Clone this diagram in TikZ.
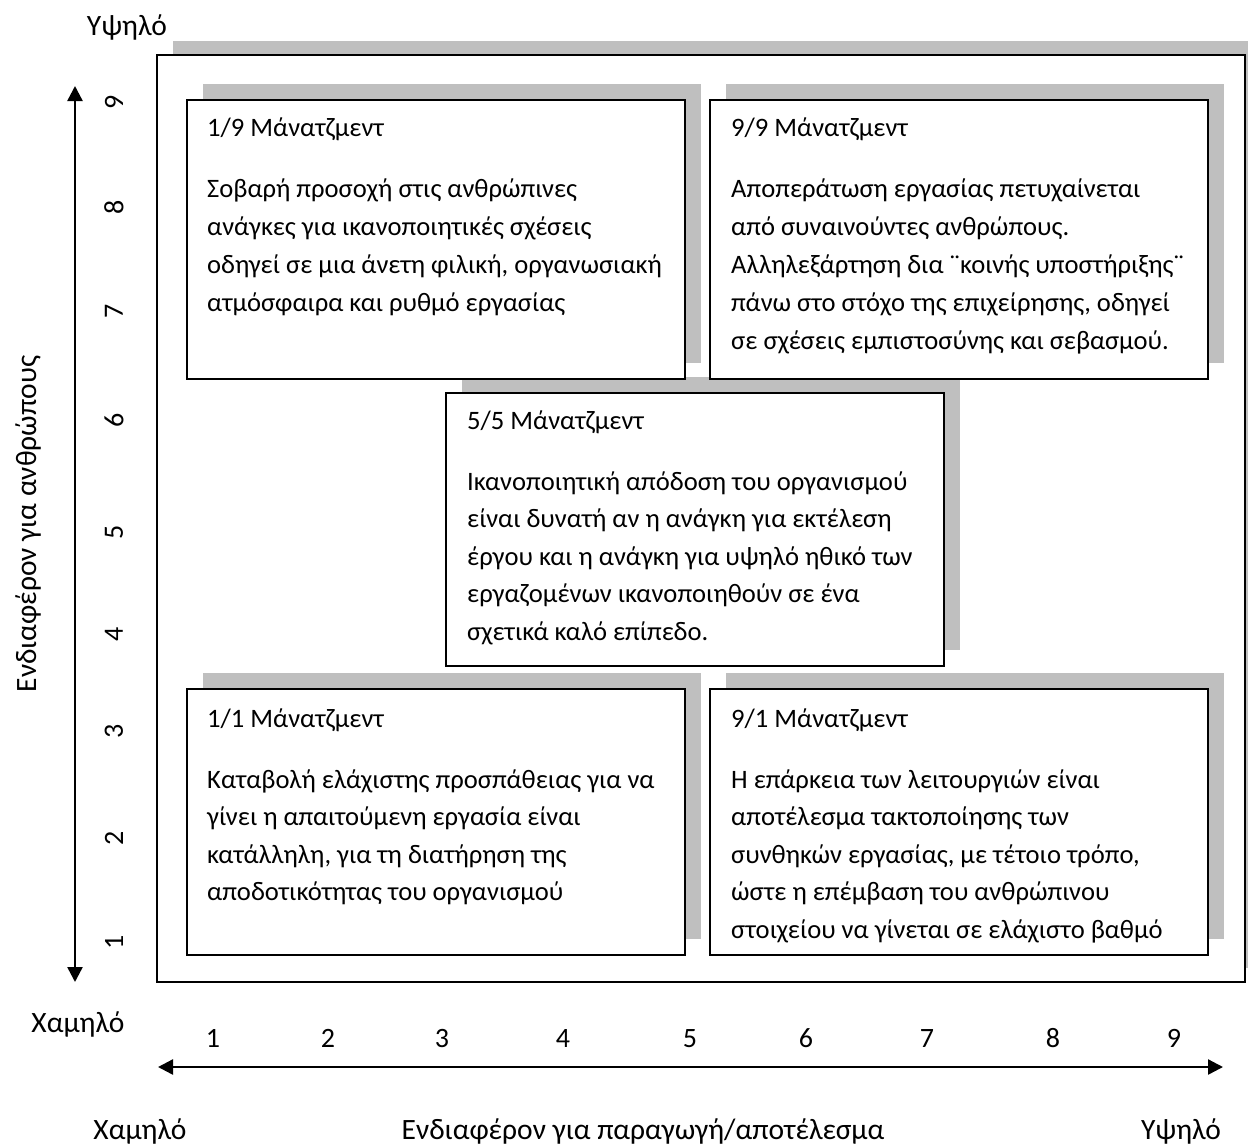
\documentclass[tikz,border=0pt]{standalone}
\usepackage{fontspec}
\setmainfont{Carlito}
\usetikzlibrary{arrows.meta}
\definecolor{shadowgray}{RGB}{191,191,191}
\begin{document}
\begin{tikzpicture}[x=1pt,y=-1pt,
  mgbox/.style={draw=black, fill=white, line width=1.5pt, anchor=north west, inner sep=0pt, outer sep=0pt},
  lbl/.style={font=\fontsize{29.5}{34}\selectfont, inner sep=0pt},
  num/.style={font=\fontsize{28}{32}\selectfont, inner sep=0pt},
  txt/.style={font=\fontsize{26.6}{30}\selectfont, inner sep=0pt, anchor=base west},
  axisarrow/.style={line width=2.4pt, {Triangle[length=15pt,width=15pt]}-{Triangle[length=15pt,width=15pt]}}
]
\useasboundingbox (0,0) rectangle (1248,1144);
% outer frame
\fill[shadowgray] (173,41) rectangle (1248,968);
\node[mgbox, minimum width=1088pt, minimum height=927pt] (frame) at (157,55) {};
% inner shadows
\newcommand\mgshadow[4]{\fill[shadowgray] (#1+16,#2-16) rectangle (#3+16,#4-16);}
\mgshadow{187}{100}{685}{379}
\mgshadow{710}{100}{1208}{379}
\mgshadow{446}{393}{944}{666}
\mgshadow{187}{689}{685}{955}
\mgshadow{710}{689}{1208}{955}
% boxes
\node[mgbox, minimum width=498pt, minimum height=279pt] (b19) at (187,100) {};
\node[mgbox, minimum width=498pt, minimum height=279pt] (b99) at (710,100) {};
\node[mgbox, minimum width=498pt, minimum height=273pt] (b55) at (446,393) {};
\node[mgbox, minimum width=498pt, minimum height=266pt] (b11) at (187,689) {};
\node[mgbox, minimum width=498pt, minimum height=266pt] (b91) at (710,689) {};
% texts 1/9
\node[txt] (t19) at (207,136) {1/9 Μάνατζμεντ};
\foreach \l [count=\i from 0] in {{Σοβαρή προσοχή στις ανθρώπινες},{ανάγκες για ικανοποιητικές σχέσεις},{οδηγεί σε μια άνετη φιλική, οργανωσιακή},{ατμόσφαιρα και ρυθμό εργασίας}}
  \node[txt] (t19l\i) at (207,197+38*\i) {\l};
% 9/9
\node[txt] (t99) at (731,136) {9/9 Μάνατζμεντ};
\foreach \l [count=\i from 0] in {{Αποπεράτωση εργασίας πετυχαίνεται},{από συναινούντες ανθρώπους.},{Αλληλεξάρτηση δια ¨κοινής υποστήριξης¨},{πάνω στο στόχο της επιχείρησης, οδηγεί},{σε σχέσεις εμπιστοσύνης και σεβασμού.}}
  \node[txt] (t99l\i) at (731,197+38*\i) {\l};
% 5/5
\node[txt] (t55) at (467,429) {5/5 Μάνατζμεντ};
\foreach \l [count=\i from 0] in {{Ικανοποιητική απόδοση του οργανισμού},{είναι δυνατή αν η ανάγκη για εκτέλεση},{έργου και η ανάγκη για υψηλό ηθικό των},{εργαζομένων ικανοποιηθούν σε ένα},{σχετικά καλό επίπεδο.}}
  \node[txt] (t55l\i) at (467,490+37.5*\i) {\l};
% 1/1
\node[txt] (t11) at (207,727) {1/1 Μάνατζμεντ};
\foreach \l [count=\i from 0] in {{Καταβολή ελάχιστης προσπάθειας για να},{γίνει η απαιτούμενη εργασία είναι},{κατάλληλη, για τη διατήρηση της},{αποδοτικότητας του οργανισμού}}
  \node[txt] (t11l\i) at (207,788+37.5*\i) {\l};
% 9/1
\node[txt] (t91) at (731,727) {9/1 Μάνατζμεντ};
\foreach \l [count=\i from 0] in {{Η επάρκεια των λειτουργιών είναι},{αποτέλεσμα τακτοποίησης των},{συνθηκών εργασίας, με τέτοιο τρόπο,},{ώστε η επέμβαση του ανθρώπινου},{στοιχείου να γίνεται σε ελάχιστο βαθμό}}
  \node[txt] (t91l\i) at (731,788+37.5*\i) {\l};
% axes
\coordinate (vtop) at (75,86);
\coordinate (vbot) at (75,982);
\draw[axisarrow] (vtop) -- (vbot);
\coordinate (hleft) at (158,1067);
\coordinate (hright) at (1223,1067);
\draw[axisarrow] (hleft) -- (hright);
\foreach \n/\y in {9/102,8/207,7/311,6/420,5/532,4/634,3/731,2/838,1/942}
  \node[num, rotate=90] (ly\n) at (114,\y) {\n};
\foreach \n/\x in {1/213,2/328,3/442,4/563,5/690,6/806,7/927,8/1053,9/1174}
  \node[num, anchor=base] (lx\n) at (\x,1047) {\n};
\node[lbl, anchor=base] (hiy) at (127,35) {Υψηλό};
\node[lbl, anchor=base] (loy) at (78,1032) {Χαμηλό};
\node[lbl, anchor=base] (lox) at (140,1139) {Χαμηλό};
\node[lbl, anchor=base] (xlab) at (643,1139) {Ενδιαφέρον για παραγωγή/αποτέλεσμα};
\node[lbl, anchor=base] (hix) at (1181,1139) {Υψηλό};
\node[lbl, rotate=90] (ylab) at (28,524) {Ενδιαφέρον για ανθρώπους};
\end{tikzpicture}
\end{document}
